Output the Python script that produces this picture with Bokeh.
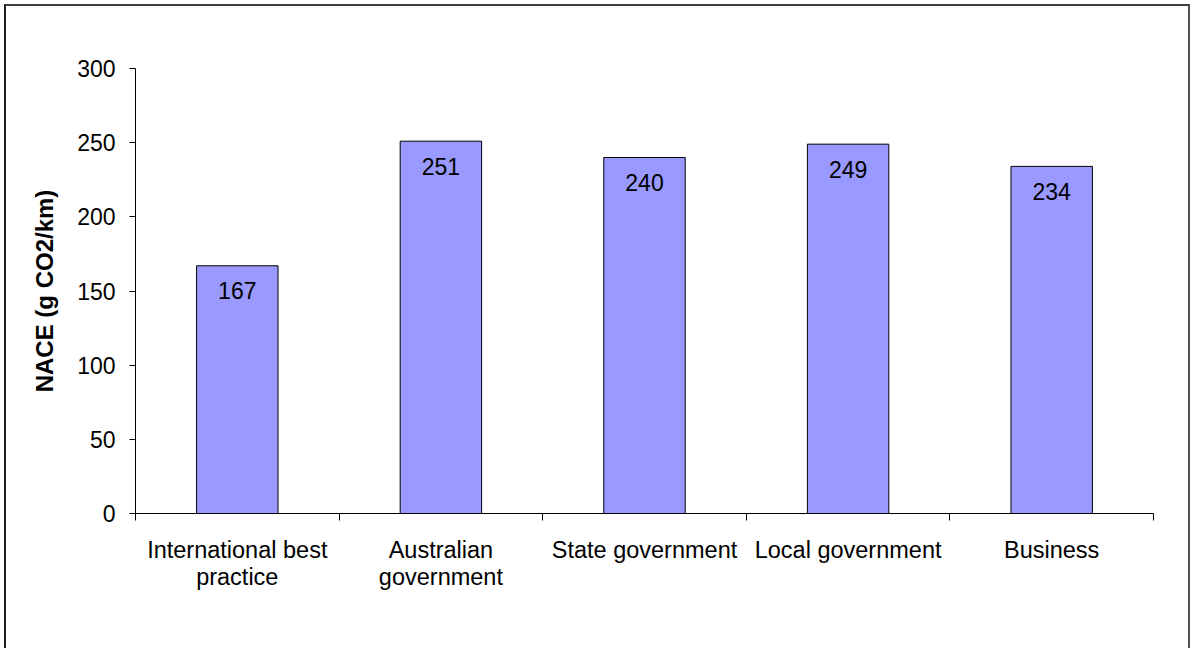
from bokeh.plotting import figure
from bokeh.models import Range1d, FixedTicker
from bokeh.layouts import column
from bokeh.core.properties import value
from bokeh.embed import file_html
from bokeh.resources import INLINE

categories = ["International best\npractice", "Australian\ngovernment", "State government",
              "Local government", "Business"]
values = [167, 251, 240, 249, 234]
y_ticks = [0, 50, 100, 150, 200, 250, 300]

FONT = "Liberation Sans"

p = figure(width=1182, height=642, output_backend="svg", toolbar_location=None,
           x_range=Range1d(0, len(categories)), y_range=Range1d(0, 300),
           min_border_left=129, min_border_right=35, min_border_top=62, min_border_bottom=135)
p.background_fill_color = "white"
p.border_fill_color = "white"
p.outline_line_color = None
p.xgrid.visible = False
p.ygrid.visible = False

xs = [i + 0.5 for i in range(len(categories))]
p.vbar(x=xs, top=values, width=0.4, fill_color="#9999FF", line_color="black", line_width=1)
p.text(x=xs, y=values, text=[str(v) for v in values], text_align="center",
       text_baseline="middle", y_offset=25, text_font=value(FONT), text_font_size="23px",
       text_color="black")

# x axis
xa = p.xaxis[0]
xa.ticker = FixedTicker(ticks=xs, minor_ticks=list(range(len(categories) + 1)))
xa.major_label_overrides = {x: c for x, c in zip(xs, categories)}
xa.major_tick_out = 0
xa.major_tick_in = 0
xa.minor_tick_out = 7
xa.minor_tick_in = 0
xa.minor_tick_line_color = "black"
xa.axis_line_color = "black"
xa.major_label_text_font = FONT
xa.major_label_text_font_size = "23.5px"
xa.major_label_text_color = "black"
xa.major_label_standoff = 16
xa.major_label_text_line_height = 1.05

# y axis
ya = p.yaxis[0]
ya.ticker = FixedTicker(ticks=y_ticks)
ya.minor_tick_out = 0
ya.minor_tick_in = 0
ya.major_tick_out = 6
ya.major_tick_in = 0
ya.axis_line_color = "black"
ya.major_tick_line_color = "black"
ya.major_label_text_font = FONT
ya.major_label_text_font_size = "23px"
ya.major_label_text_color = "black"
ya.major_label_standoff = 14
ya.axis_label = "NACE (g CO2/km)"
ya.axis_label_text_font = FONT
ya.axis_label_text_font_size = "24px"
ya.axis_label_text_font_style = "bold"
ya.axis_label_text_color = "black"
ya.axis_label_standoff = 16

page = column(p, styles={"margin-left": "4px", "margin-top": "4px",
                         "border-left": "2px solid #202020",
                         "border-top": "2px solid #404040",
                         "border-right": "2px solid #505050"})

open("out.html", "w").write(file_html(page, INLINE))
